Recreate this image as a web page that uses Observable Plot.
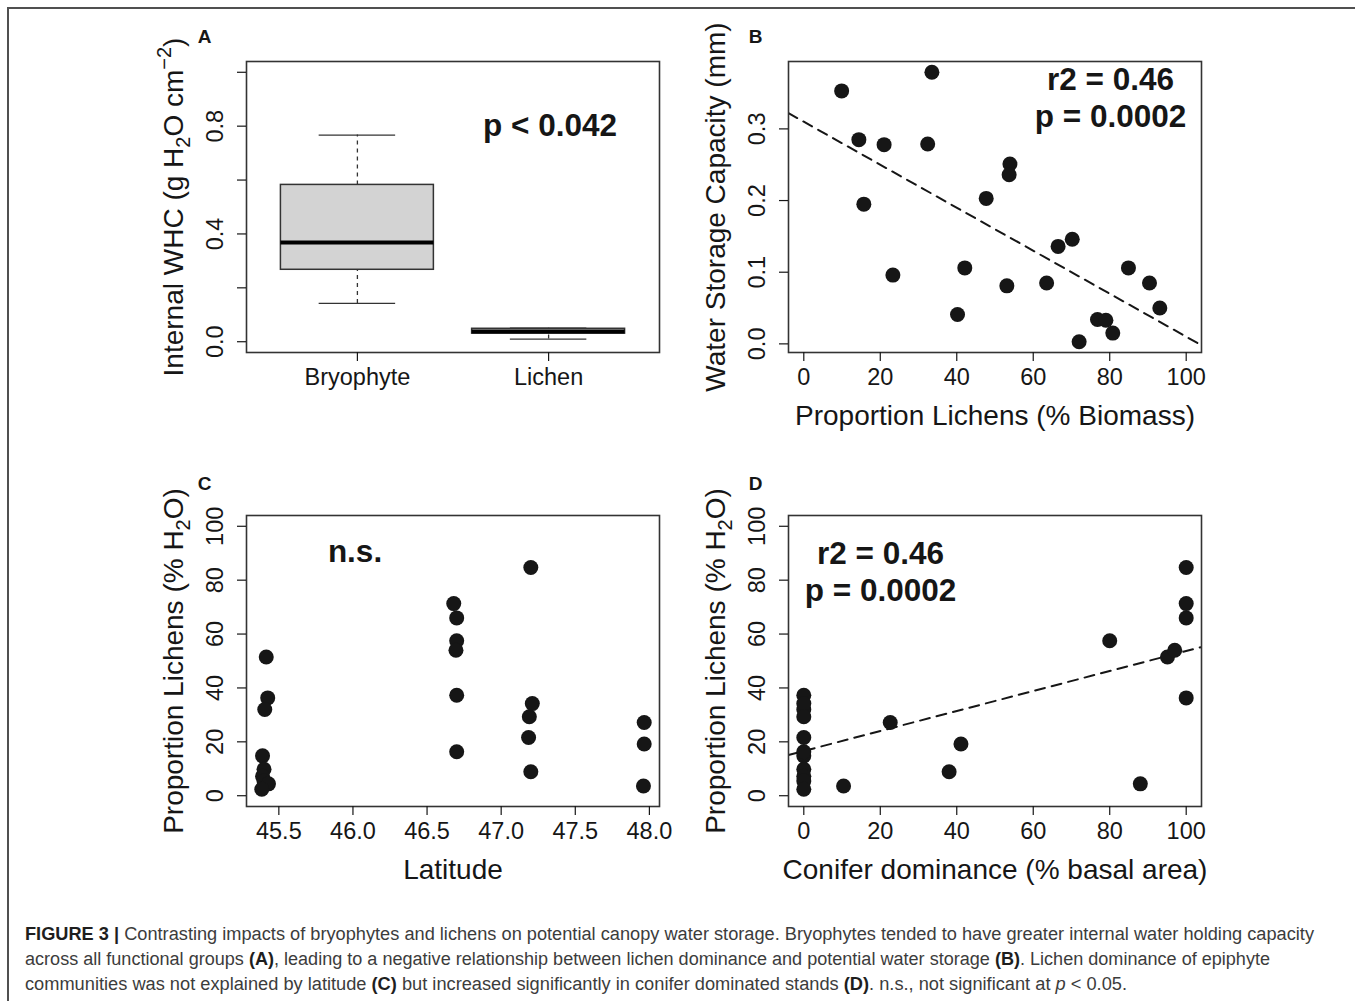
<!DOCTYPE html>
<html>
<head>
<meta charset="utf-8">
<script src="https://cdn.jsdelivr.net/npm/d3@7"></script>
<script src="https://cdn.jsdelivr.net/npm/@observablehq/plot@0.6"></script>
<style>
  html, body { margin: 0; padding: 0; background: #fff; }
  #fig { position: relative; width: 1355px; height: 1001px; background: #fff; overflow: hidden;
         font-family: "Liberation Sans", Arial, Helvetica, sans-serif; }
  .panel { position: absolute; }
  .panel svg { display: block; overflow: visible; max-width: none; background: transparent; }
  .rule-top { position: absolute; left: 7px; top: 7px; width: 1348px; height: 2px; background: #505050; }
  .rule-left { position: absolute; left: 7px; top: 7px; width: 2px; height: 994px; background: #505050; }
  .cap { position: absolute; left: 25px; white-space: nowrap;
         font-family: "Liberation Sans Narrow", "Liberation Sans", Arial, sans-serif;
         font-size: 18px; line-height: 25px; color: #3c3c3c; transform-origin: 0 50%; }
  .cap b { color: #1e1e1e; }
</style>
</head>
<body>
<div id="fig">
  <div class="rule-top"></div><div class="rule-left"></div>
</div>
<script>
// ---------------- data ----------------
// Panel A: internal water holding capacity box plots
const groups = ["Bryophyte", "Lichen"];
const whcMin = [0.142, 0.010];
const whcQ1 = [0.267, 0.030];
const whcMedian = [0.368, 0.038];
const whcQ3 = [0.582, 0.048];
const whcMax = [0.767, 0.050];
const whcTicks = [0, 0.2, 0.4, 0.6, 0.8, 1.0];
const whcStat = "p < 0.042";

// Panel B: water storage capacity vs proportion lichens (% biomass)
const lichenBiomassPct = [9.9, 33.5, 14.4, 21.0, 32.4, 15.7, 23.3, 53.9, 53.7, 47.7, 42.1, 40.2,
                          53.1, 63.5, 66.5, 70.2, 72.0, 76.8, 79.0, 80.8, 84.9, 90.4, 93.1];
const waterStorageMm = [0.353, 0.379, 0.285, 0.278, 0.279, 0.195, 0.096, 0.251, 0.236, 0.203, 0.106, 0.041,
                        0.081, 0.085, 0.136, 0.146, 0.003, 0.034, 0.033, 0.015, 0.106, 0.085, 0.050];
const storageIntercept = 0.310;
const storageSlope = -0.0030;
const storageStats = ["r2 = 0.46", "p = 0.0002"];
const storageTicks = [0, 0.1, 0.2, 0.3];
const pctTicks = [0, 20, 40, 60, 80, 100];

// Panels C & D: proportion lichens (% H2O) vs latitude and conifer dominance
const latitude = [45.415, 45.425, 45.405, 45.39, 45.40, 45.39, 45.40, 45.43, 45.385,
                  46.68, 46.70, 46.70, 46.695, 46.70, 46.70,
                  47.20, 47.21, 47.19, 47.185, 47.20,
                  47.965, 47.965, 47.96];
const coniferPct = [95.1, 100, 0, 0, 0, 0, 0, 88, 0,
                    100, 100, 80, 97, 0, 0,
                    100, 0, 0, 0, 38,
                    22.6, 41.1, 10.4];
const lichenWaterPct = [51.5, 36.3, 32.0, 14.8, 9.8, 7.2, 5.5, 4.4, 2.4,
                        71.3, 66.0, 57.5, 54.0, 37.3, 16.3,
                        84.7, 34.2, 29.3, 21.6, 8.9,
                        27.2, 19.2, 3.6];
const coniferIntercept = 16.6;
const coniferSlope = 0.371;
const coniferStats = ["r2 = 0.46", "p = 0.0002"];
const latTicks = [45.5, 46.0, 46.5, 47.0, 47.5, 48.0];
const latStat = "n.s.";

const panelLetters = ["A", "B", "C", "D"];
const titles = {
  whc: "Internal WHC (g H2O cm-2)",
  storage: "Water Storage Capacity (mm)",
  biomass: "Proportion Lichens (% Biomass)",
  water: "Proportion Lichens (% H2O)",
  latitude: "Latitude",
  conifer: "Conifer dominance (% basal area)"
};
const captionLines = [
  [["b", "FIGURE 3 |"], ["", " Contrasting impacts of bryophytes and lichens on potential canopy water storage. Bryophytes tended to have greater internal water holding capacity"]],
  [["", "across all functional groups "], ["b", "(A)"], ["", ", leading to a negative relationship between lichen dominance and potential water storage "], ["b", "(B)"], ["", ". Lichen dominance of epiphyte"]],
  [["", "communities was not explained by latitude "], ["b", "(C)"], ["", " but increased significantly in conifer dominated stands "], ["b", "(D)"], ["", ". n.s., not significant at "], ["i", "p"], ["", " < 0.05."]]
];

// ---------------- helpers ----------------
const FONT = '"Liberation Sans", Arial, Helvetica, sans-serif';
const INK = "#161616";
const LINE = "#333";
const pad4 = ([a, b]) => [a - 0.04 * (b - a), b + 0.04 * (b - a)];
const fig = document.getElementById("fig");

const axX = (ticks, fmt) => Plot.axisX({ticks, tickFormat: fmt, tickSize: 9, tickPadding: 7,
  fontSize: 23.5, label: null, strokeWidth: 1.2});
const axY = (ticks, fmt) => Plot.axisY({ticks, tickFormat: fmt, tickSize: 9, tickPadding: 15,
  tickRotate: -90, fontSize: 23.5, label: null, strokeWidth: 1.2});
const xTitle = (t) => Plot.text([t], {frameAnchor: "bottom", textAnchor: "middle", lineAnchor: "middle", dy: 64, fontSize: 28});
const yTitle = (t) => Plot.text([t], {frameAnchor: "left", textAnchor: "middle", lineAnchor: "middle", rotate: -90, dx: -72, fontSize: 28});
const letter = (t, dx, dy) => Plot.text([t], {frameAnchor: "top-left", textAnchor: "middle", lineAnchor: "middle", dx, dy, fontSize: 19, fontWeight: "bold"});
const frame = () => Plot.frame({stroke: LINE, strokeWidth: 1.6});
const fitLine = (dom, a, b) => Plot.line(dom.map((x) => ({x, y: a + b * x})),
  {x: "x", y: "y", stroke: INK, strokeWidth: 2, strokeDasharray: "10,7", clip: true});

function place(svg, left, top) {
  const d = document.createElement("div");
  d.className = "panel";
  d.style.left = left + "px";
  d.style.top = top + "px";
  d.appendChild(svg);
  fig.appendChild(d);
  return svg;
}

function makePlot(side, x, y, marks) {
  return Plot.plot({
    width: 600, height: 440,
    marginLeft: side === "left" ? 146 : 128,
    marginRight: side === "left" ? 41 : 59,
    marginTop: 61, marginBottom: 88,
    style: {background: "transparent", overflow: "visible", fontFamily: FONT, color: INK, maxWidth: "none"},
    x, y, marks
  });
}

// rebuild a title with sub/superscripts as tspans
function richTitle(svg, plain, parts) {
  const t = Array.from(svg.querySelectorAll("text")).find((e) => e.textContent === plain);
  if (!t) return;
  t.textContent = "";
  const NS = "http://www.w3.org/2000/svg";
  let shift = 0;
  for (const [s, kind] of parts) {
    const ts = document.createElementNS(NS, "tspan");
    ts.textContent = s;
    let target = 0;
    if (kind === "sub") { target = 7; ts.setAttribute("font-size", "20"); }
    if (kind === "sup") { target = -12; ts.setAttribute("font-size", "20"); }
    if (target !== shift) ts.setAttribute("dy", String(target - shift));
    shift = target;
    t.appendChild(ts);
  }
}

// ---------------- Panel A ----------------
const boxRows = groups.map((g, i) => ({pos: i + 1, min: whcMin[i], q1: whcQ1[i], median: whcMedian[i], q3: whcQ3[i], max: whcMax[i]}));
const svgA = makePlot("left",
  {domain: pad4([0.5, 2.5])},
  {domain: pad4([0, 1])},
  [
    Plot.ruleX(boxRows, {x: "pos", y1: "q3", y2: "max", stroke: LINE, strokeWidth: 1.3, strokeDasharray: "4,4"}),
    Plot.ruleX(boxRows, {x: "pos", y1: "min", y2: "q1", stroke: LINE, strokeWidth: 1.3, strokeDasharray: "4,4"}),
    Plot.ruleY(boxRows, {y: "max", x1: (d) => d.pos - 0.2, x2: (d) => d.pos + 0.2, stroke: LINE, strokeWidth: 1.3}),
    Plot.ruleY(boxRows, {y: "min", x1: (d) => d.pos - 0.2, x2: (d) => d.pos + 0.2, stroke: LINE, strokeWidth: 1.3}),
    Plot.rect(boxRows, {x1: (d) => d.pos - 0.4, x2: (d) => d.pos + 0.4, y1: "q1", y2: "q3", fill: "#d3d3d3", stroke: LINE, strokeWidth: 1.5}),
    Plot.ruleY(boxRows, {y: "median", x1: (d) => d.pos - 0.4, x2: (d) => d.pos + 0.4, stroke: "#000", strokeWidth: 4}),
    frame(),
    axX([1, 2], (d) => groups[d - 1]),
    axY(whcTicks, (d) => (Math.round(d * 10) % 4 === 0 ? d.toFixed(1) : "")),
    Plot.text([whcStat], {frameAnchor: "top", textAnchor: "middle", lineAnchor: "middle", dx: 97, dy: 64, fontSize: 31.5, fontWeight: "bold"}),
    yTitle(titles.whc),
    letter(panelLetters[0], -42, -25)
  ]);
place(svgA, 100, 0);
richTitle(svgA, titles.whc, [["Internal WHC (g H", ""], ["2", "sub"], ["O cm", ""], ["\u22122", "sup"], [")", ""]]);

// ---------------- Panel B ----------------
const storageRows = lichenBiomassPct.map((x, i) => ({x, y: waterStorageMm[i]}));
const xDomB = pad4([0, 100]);
const svgB = makePlot("right",
  {domain: xDomB},
  {domain: pad4(d3.extent(waterStorageMm))},
  [
    fitLine(xDomB, storageIntercept, storageSlope),
    Plot.dot(storageRows, {x: "x", y: "y", r: 7.5, fill: INK, stroke: null}),
    frame(),
    axX(pctTicks, d3.format("d")),
    axY(storageTicks, d3.format(".1f")),
    Plot.text([storageStats.join("\n")], {frameAnchor: "top-right", textAnchor: "middle", lineAnchor: "top",
      dx: -91, dy: 2, lineHeight: 1.17, fontSize: 31.5, fontWeight: "bold"}),
    xTitle(titles.biomass),
    yTitle(titles.storage),
    letter(panelLetters[1], -33, -25)
  ]);
place(svgB, 660, 0);

// ---------------- Panel C ----------------
const latRows = latitude.map((x, i) => ({x, y: lichenWaterPct[i]}));
const svgC = makePlot("left",
  {domain: pad4(d3.extent(latitude))},
  {domain: pad4([0, 100])},
  [
    Plot.dot(latRows, {x: "x", y: "y", r: 7.5, fill: INK, stroke: null}),
    frame(),
    axX(latTicks, d3.format(".1f")),
    axY(pctTicks, d3.format("d")),
    Plot.text([latStat], {frameAnchor: "top-left", textAnchor: "middle", lineAnchor: "middle", dx: 108.5, dy: 36, fontSize: 31.5, fontWeight: "bold"}),
    xTitle(titles.latitude),
    yTitle(titles.water),
    letter(panelLetters[2], -42, -32)
  ]);
place(svgC, 100, 454);
richTitle(svgC, titles.water, [["Proportion Lichens (% H", ""], ["2", "sub"], ["O)", ""]]);

// ---------------- Panel D ----------------
const conRows = coniferPct.map((x, i) => ({x, y: lichenWaterPct[i]}));
const xDomD = pad4(d3.extent(coniferPct));
const svgD = makePlot("right",
  {domain: xDomD},
  {domain: pad4([0, 100])},
  [
    fitLine(xDomD, coniferIntercept, coniferSlope),
    Plot.dot(conRows, {x: "x", y: "y", r: 7.5, fill: INK, stroke: null}),
    frame(),
    axX(pctTicks, d3.format("d")),
    axY(pctTicks, d3.format("d")),
    Plot.text([coniferStats.join("\n")], {frameAnchor: "top-left", textAnchor: "middle", lineAnchor: "top",
      dx: 92, dy: 22, lineHeight: 1.17, fontSize: 31.5, fontWeight: "bold"}),
    xTitle(titles.conifer),
    yTitle(titles.water),
    letter(panelLetters[3], -33, -32)
  ]);
place(svgD, 660, 454);
richTitle(svgD, titles.water, [["Proportion Lichens (% H", ""], ["2", "sub"], ["O)", ""]]);

// ---------------- Caption ----------------
const capTargets = [1289, 1245, 1102];
const capTops = [921.5, 946.5, 971.5];
captionLines.forEach((parts, i) => {
  const div = document.createElement("div");
  div.className = "cap";
  div.style.top = capTops[i] + "px";
  for (const [tag, s] of parts) {
    const el = document.createElement(tag === "b" ? "b" : tag === "i" ? "i" : "span");
    el.textContent = s;
    div.appendChild(el);
  }
  fig.appendChild(div);
  const w = div.getBoundingClientRect().width;
  if (w > 0) div.style.transform = `scaleX(${capTargets[i] / w})`;
});
</script>
</body>
</html>
